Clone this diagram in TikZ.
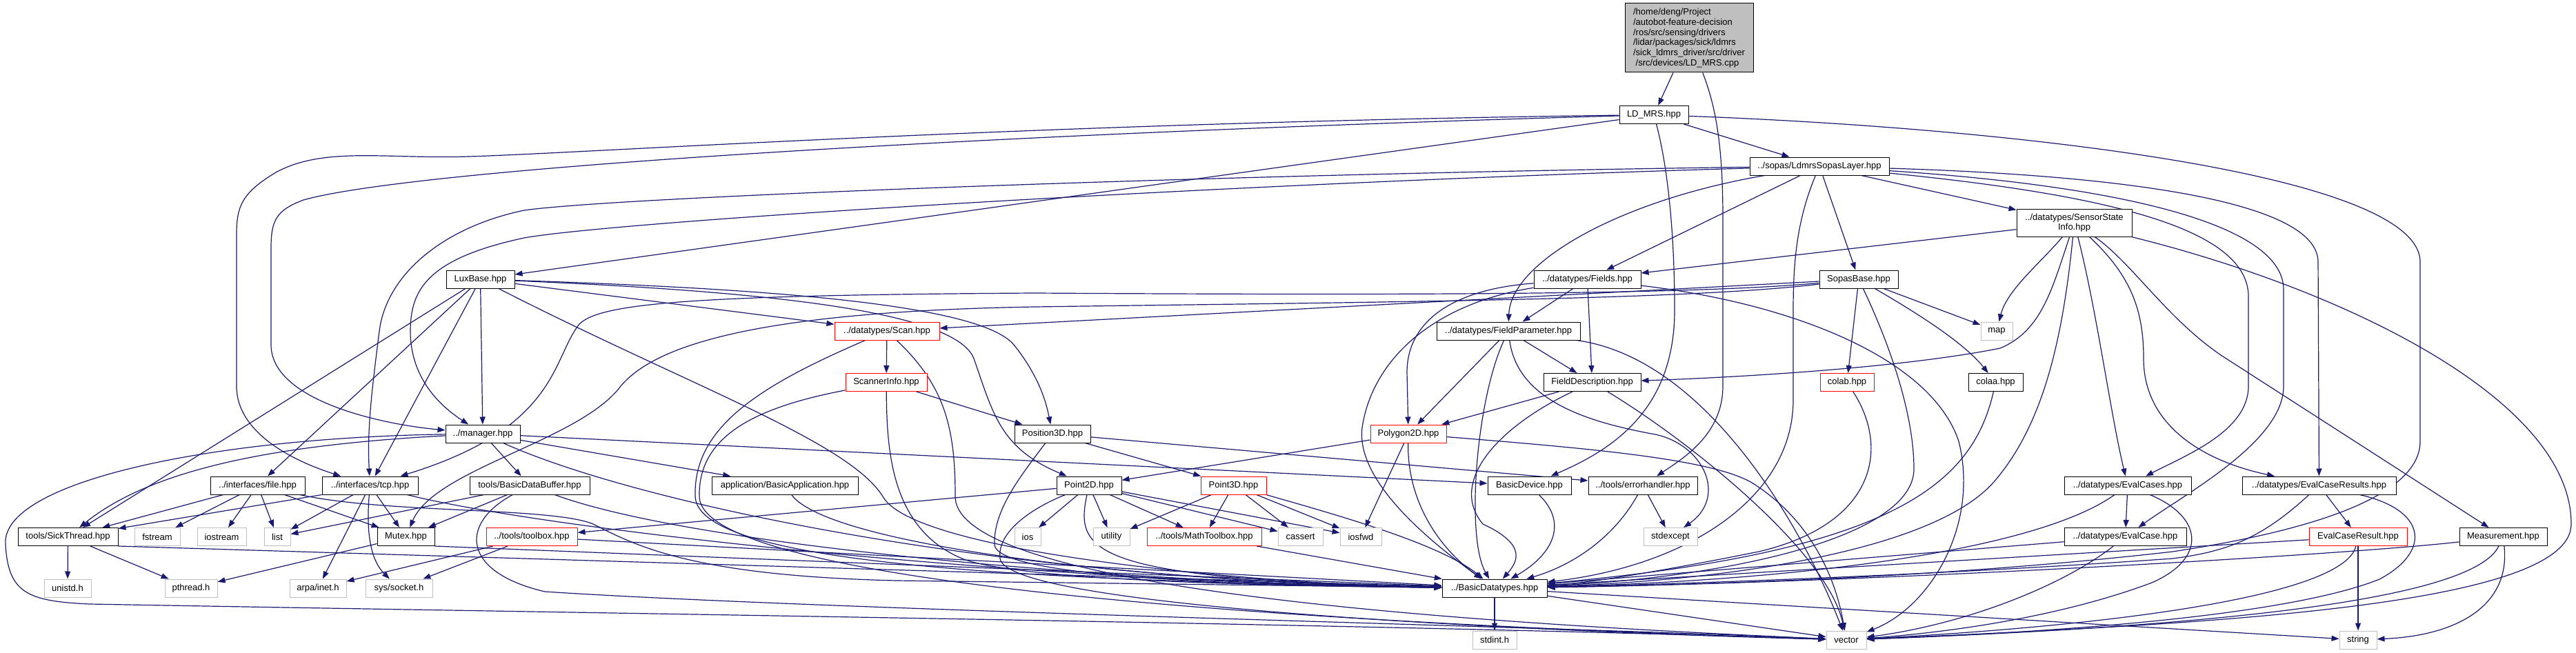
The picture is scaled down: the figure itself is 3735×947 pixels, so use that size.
\documentclass[tikz,border=0pt]{standalone}
\usepackage{fontspec}
\setmainfont{Liberation Sans}
\usepackage{tikz}
\usetikzlibrary{arrows.meta,backgrounds}
\definecolor{edgeblue}{RGB}{25,25,112}
\definecolor{sysgray}{RGB}{191,191,191}
\tikzset{
  hdrbox/.style={rectangle, draw=black, fill=white, line width=0.5pt, minimum height=13pt, inner sep=1.5pt, font=\fontsize{6.5}{7.35}\selectfont},
  truncbox/.style={hdrbox, draw=red},
  sysbox/.style={hdrbox, draw=sysgray},
  rootbox/.style={hdrbox, fill=sysgray, align=left},
  dep/.style={-{Triangle[length=5.5pt,width=4pt]}, color=edgeblue, line width=0.6pt},
}

\begin{document}
\begin{tikzpicture}[x=0.5pt, y=-0.5pt]
  \useasboundingbox (0,0) rectangle (3735,947);

  % Source file
  \node[rootbox, minimum width=93pt, minimum height=50pt] (root) at (2449,55) {/home/deng/Project\\/autobot-feature-decision\\/ros/src/sensing/drivers\\/lidar/packages/sick/ldmrs\\/sick\_ldmrs\_driver/src/driver\\\ /src/devices/LD\_MRS.cpp};

  % Upper headers
  \node[hdrbox, minimum width=50pt] (ldmrs) at (2398,166.5) {LD\_MRS.hpp};
  \node[hdrbox, minimum width=101pt] (sopaslayer) at (2638,241) {../sopas/LdmrsSopasLayer.hpp};
  \node[hdrbox, minimum width=83.5pt, minimum height=20pt, align=center] (sensorstate) at (3007.5,323) {../datatypes/SensorState\\Info.hpp};
  \node[hdrbox, minimum width=49.5pt] (luxbase) at (696.5,405) {LuxBase.hpp};
  \node[hdrbox, minimum width=77.5pt] (fields) at (2301.5,405) {../datatypes/Fields.hpp};
  \node[hdrbox, minimum width=57pt] (sopasbase) at (2695,405) {SopasBase.hpp};
  \node[truncbox, minimum width=76pt] (scan) at (1286,480) {../datatypes/Scan.hpp};
  \node[hdrbox, minimum width=104pt] (fieldparam) at (2187,480) {../datatypes/FieldParameter.hpp};
  \node[sysbox, minimum width=23pt] (map) at (2895,480) {map};
  \node[truncbox, minimum width=59pt] (scannerinfo) at (1285,554.5) {ScannerInfo.hpp};
  \node[hdrbox, minimum width=70.5pt] (fielddesc) at (2308.5,554.5) {FieldDescription.hpp};
  \node[truncbox, minimum width=39pt] (colab) at (2678,554.5) {colab.hpp};
  \node[hdrbox, minimum width=39.5pt] (colaa) at (2893.5,554.5) {colaa.hpp};
  \node[hdrbox, minimum width=54pt] (manager) at (700,629) {../manager.hpp};
  \node[hdrbox, minimum width=55pt] (position3d) at (1526,629) {Position3D.hpp};
  \node[truncbox, minimum width=55pt] (polygon2d) at (2042,629) {Polygon2D.hpp};

  % Middle headers
  \node[hdrbox, minimum width=68.5pt] (filehpp) at (373.5,704) {../interfaces/file.hpp};
  \node[hdrbox, minimum width=69.5pt] (tcphpp) at (536.5,704) {../interfaces/tcp.hpp};
  \node[hdrbox, minimum width=87pt] (bdatabuf) at (768,704) {tools/BasicDataBuffer.hpp};
  \node[hdrbox, minimum width=106pt] (basicapp) at (1138,704) {application/BasicApplication.hpp};
  \node[hdrbox, minimum width=47pt] (point2d) at (1579,704) {Point2D.hpp};
  \node[truncbox, minimum width=47.5pt] (point3d) at (1788.5,704) {Point3D.hpp};
  \node[hdrbox, minimum width=60.5pt] (basicdevice) at (2217.5,704) {BasicDevice.hpp};
  \node[hdrbox, minimum width=79pt] (errorhandler) at (2382,704) {../tools/errorhandler.hpp};
  \node[hdrbox, minimum width=92pt] (evalcases) at (3085,704) {../datatypes/EvalCases.hpp};
  \node[hdrbox, minimum width=111.5pt] (evalcaseresults) at (3362.5,704) {../datatypes/EvalCaseResults.hpp};

  \node[hdrbox, minimum width=72.5pt] (sickthread) at (98.5,778.5) {tools/SickThread.hpp};
  \node[sysbox, minimum width=33pt] (fstream) at (228,778.5) {fstream};
  \node[sysbox, minimum width=35.5pt] (iostream) at (321.5,778.5) {iostream};
  \node[sysbox, minimum width=19pt] (list) at (402,778.5) {list};
  \node[hdrbox, minimum width=41.5pt] (mutex) at (588.5,778.5) {Mutex.hpp};
  \node[truncbox, minimum width=66pt] (toolbox) at (771,778.5) {../tools/toolbox.hpp};
  \node[sysbox, minimum width=19pt] (ios) at (1490,778.5) {ios};
  \node[sysbox, minimum width=26.5pt] (utility) at (1611.5,778.5) {utility};
  \node[truncbox, minimum width=83pt] (mathtoolbox) at (1746,778.5) {../tools/MathToolbox.hpp};
  \node[sysbox, minimum width=32.5pt] (cassert) at (1885.5,778.5) {cassert};
  \node[sysbox, minimum width=30pt] (iosfwd) at (1973,778.5) {iosfwd};
  \node[sysbox, minimum width=39pt] (stdexcept) at (2422,778.5) {stdexcept};
  \node[hdrbox, minimum width=88.5pt] (evalcase) at (3081.5,778.5) {../datatypes/EvalCase.hpp};
  \node[truncbox, minimum width=71pt] (evalcaseresult) at (3419,778.5) {EvalCaseResult.hpp};
  \node[hdrbox, minimum width=63.5pt] (measurement) at (3629.5,778.5) {Measurement.hpp};

  % Bottom headers
  \node[sysbox, minimum width=34pt] (unistd) at (98,853) {unistd.h};
  \node[sysbox, minimum width=38pt] (pthread) at (277,853) {pthread.h};
  \node[sysbox, minimum width=41pt] (arpainet) at (461,853) {arpa/inet.h};
  \node[sysbox, minimum width=48.5pt] (syssocket) at (578.5,853) {sys/socket.h};
  \node[hdrbox, minimum width=76pt] (basicdt) at (2167,853) {../BasicDatatypes.hpp};
  \node[sysbox, minimum width=32pt] (stdint) at (2167,928) {stdint.h};
  \node[sysbox, minimum width=29pt] (vector) at (2677,928) {vector};
  \node[sysbox, minimum width=27pt] (string) at (3419,928) {string};

  \begin{scope}[on background layer]
  % LD_MRS.cpp
  \draw[dep] (root) -- (ldmrs);
  \draw[dep] (root) .. controls (2490,160) and (2498,220) .. (2498,320) -- (2498,560) .. controls (2498,630) and (2440,665) .. (errorhandler);

  % LD_MRS.hpp
  \draw[dep] (ldmrs) -- (sopaslayer);
  \draw[dep] (ldmrs) -- (luxbase);
  \draw[dep] (ldmrs) .. controls (1500,178) and (850,222) .. (680,227) .. controls (560,231) and (470,212) .. (400,250) .. controls (350,280) and (343,300) .. (343,340) -- (343,560) .. controls (343,630) and (430,670) .. (tcphpp);
  \draw[dep] (ldmrs) .. controls (1400,195) and (600,245) .. (440,290) .. controls (400,305) and (393,320) .. (393,360) -- (393,500) .. controls (393,580) and (550,615) .. (manager);
  \draw[dep] (ldmrs) .. controls (2420,250) and (2428,350) .. (2428,450) .. controls (2428,600) and (2330,655) .. (basicdevice);
  \draw[dep] (ldmrs) .. controls (2900,185) and (3509,250) .. (3509,380) -- (3509,640) .. controls (3509,720) and (3350,770) .. (3150,800) .. controls (2800,840) and (2450,848) .. (basicdt);

  % LdmrsSopasLayer.hpp
  \draw[dep] (sopaslayer) -- (fields);
  \draw[dep] (sopaslayer) -- (sopasbase);
  \draw[dep] (sopaslayer) -- (sensorstate);
  \draw[dep] (sopaslayer) .. controls (2350,290) and (2190,380) .. (fieldparam);
  \draw[dep] (sopaslayer) .. controls (2605,320) and (2600,380) .. (2600,450) -- (2600,580) .. controls (2600,720) and (2450,820) .. (basicdt);
  \draw[dep] (sopaslayer) .. controls (1800,252) and (900,285) .. (760,305) .. controls (640,330) and (560,400) .. (550,480) .. controls (540,560) and (532,620) .. (tcphpp);
  \draw[dep] (sopaslayer) .. controls (1800,265) and (900,320) .. (760,345) .. controls (620,375) and (595,420) .. (595,480) .. controls (595,550) and (640,590) .. (manager);
  \draw[dep] (sopaslayer) .. controls (3000,252) and (3361,280) .. (3361,380) -- (evalcaseresults);
  \draw[dep] (sopaslayer) .. controls (3050,268) and (3311,320) .. (3311,420) -- (3311,560) .. controls (3311,640) and (3170,715) .. (evalcase);
  \draw[dep] (sopaslayer) .. controls (3050,282) and (3260,330) .. (3260,430) -- (3260,560) .. controls (3260,625) and (3170,660) .. (evalcases);

  % SensorStateInfo.hpp
  \draw[dep] (sensorstate) -- (fields);
  \draw[dep] (sensorstate) .. controls (2975,420) and (2960,480) .. (2900,505) .. controls (2750,535) and (2500,548) .. (fielddesc);
  \draw[dep] (sensorstate) .. controls (2960,380) and (2910,420) .. (map);
  \draw[dep] (sensorstate) .. controls (3040,450) and (3060,600) .. (evalcases);
  \draw[dep] (sensorstate) .. controls (3090,400) and (3108,450) .. (3108,520) .. controls (3108,620) and (3200,670) .. (evalcaseresults);
  \draw[dep] (sensorstate) .. controls (3090,380) and (3140,460) .. (3220,515) -- (measurement);
  \draw[dep] (sensorstate) .. controls (3400,420) and (3728,580) .. (3728,760) .. controls (3728,880) and (3200,905) .. (vector);
  \draw[dep] (sensorstate) .. controls (2990,500) and (2960,620) .. (2890,700) .. controls (2800,800) and (2500,842) .. (basicdt);

  % LuxBase.hpp
  \draw[dep] (luxbase) -- (manager);
  \draw[dep] (luxbase) -- (sickthread);
  \draw[dep] (luxbase) -- (filehpp);
  \draw[dep] (luxbase) -- (tcphpp);
  \draw[dep] (luxbase) -- (scan);
  \draw[dep] (luxbase) .. controls (1100,418) and (1420,440) .. (1470,500) .. controls (1510,550) and (1518,590) .. (position3d);
  \draw[dep] (luxbase) .. controls (1100,422) and (1385,450) .. (1412,520) .. controls (1440,600) and (1450,650) .. (point2d);
  \draw[dep] (luxbase) .. controls (1000,560) and (1230,640) .. (1280,720) .. controls (1330,810) and (1900,850) .. (basicdt);

  % Fields.hpp
  \draw[dep] (fields) -- (fieldparam);
  \draw[dep] (fields) -- (fielddesc);
  \draw[dep] (fields) .. controls (2100,420) and (2040,470) .. (2040,540) -- (polygon2d);
  \draw[dep] (fields) .. controls (2080,440) and (1990,520) .. (1975,620) .. controls (1965,700) and (2080,790) .. (basicdt);
  \draw[dep] (fields) .. controls (2600,440) and (2800,520) .. (2840,640) .. controls (2870,760) and (2800,880) .. (vector);

  % SopasBase.hpp
  \draw[dep] (sopasbase) -- (colab);
  \draw[dep] (sopasbase) -- (map);
  \draw[dep] (sopasbase) .. controls (2790,460) and (2850,500) .. (colaa);
  \draw[dep] (sopasbase) .. controls (2740,500) and (2775,600) .. (2775,680) .. controls (2775,780) and (2500,838) .. (basicdt);
  \draw[dep] (sopasbase) -- (scan);
  \draw[dep] (sopasbase) .. controls (2450,428) and (2000,428) .. (1500,425) .. controls (1000,428) and (870,440) .. (840,470) .. controls (800,520) and (810,620) .. (tcphpp);
  \draw[dep] (sopasbase) .. controls (2450,435) and (2000,438) .. (1500,445) .. controls (1100,452) and (950,500) .. (900,560) .. controls (840,640) and (630,680) .. (mutex);

  % FieldParameter.hpp, FieldDescription.hpp, Polygon2D.hpp
  \draw[dep] (fieldparam) -- (polygon2d);
  \draw[dep] (fieldparam) -- (fielddesc);
  \draw[dep] (fieldparam) .. controls (2140,580) and (2125,780) .. (basicdt);
  \draw[dep] (fieldparam) .. controls (2200,580) and (2300,612) .. (2400,630) .. controls (2470,645) and (2505,720) .. (stdexcept);
  \draw[dep] (fieldparam) .. controls (2480,520) and (2620,780) .. (vector);
  \draw[dep] (fielddesc) -- (polygon2d);
  \draw[dep] (fielddesc) .. controls (2170,620) and (2100,700) .. (2150,760) .. controls (2215,790) and (2200,815) .. (basicdt);
  \draw[dep] (fielddesc) .. controls (2450,640) and (2650,800) .. (vector);
  \draw[dep] (polygon2d) -- (point2d);
  \draw[dep] (polygon2d) -- (iosfwd);
  \draw[dep] (polygon2d) .. controls (2040,720) and (2080,790) .. (basicdt);
  \draw[dep] (polygon2d) .. controls (2300,650) and (2480,665) .. (2540,700) .. controls (2620,750) and (2660,830) .. (vector);

  % Scan.hpp, ScannerInfo.hpp, Position3D.hpp
  \draw[dep] (scan) -- (scannerinfo);
  \draw[dep] (scan) .. controls (1100,560) and (1005,620) .. (1008,720) .. controls (1012,820) and (1500,842) .. (basicdt);
  \draw[dep] (scan) .. controls (1370,560) and (1385,620) .. (1385,720) .. controls (1385,870) and (2300,910) .. (vector);
  \draw[dep] (scannerinfo) -- (position3d);
  \draw[dep] (scannerinfo) .. controls (1286,650) and (1290,770) .. (1400,812) .. controls (1500,845) and (1900,850) .. (basicdt);
  \draw[dep] (scannerinfo) .. controls (1100,590) and (1012,630) .. (1014,720) .. controls (1016,870) and (2200,912) .. (vector);
  \draw[dep] (position3d) -- (point3d);
  \draw[dep] (position3d) -- (errorhandler);
  \draw[dep] (position3d) .. controls (1480,690) and (1440,740) .. (1442,790) .. controls (1445,830) and (1700,848) .. (basicdt);

  % manager.hpp
  \draw[dep] (manager) -- (bdatabuf);
  \draw[dep] (manager) -- (basicapp);
  \draw[dep] (manager) -- (basicdevice);
  \draw[dep] (manager) .. controls (400,645) and (220,680) .. (sickthread);
  \draw[dep] (manager) .. controls (300,635) and (0,700) .. (8,790) .. controls (12,860) and (40,872) .. (130,876) .. controls (900,890) and (2000,905) .. (vector);
  \draw[dep] (manager) .. controls (900,720) and (1400,840) .. (basicdt);

  % interfaces and tools
  \draw[dep] (filehpp) -- (sickthread);
  \draw[dep] (filehpp) -- (fstream);
  \draw[dep] (filehpp) -- (iostream);
  \draw[dep] (filehpp) -- (list);
  \draw[dep] (filehpp) -- (mutex);
  \draw[dep] (filehpp) .. controls (560,745) and (800,735) .. (860,760) .. controls (920,790) and (1000,835) .. (1300,842) -- (basicdt);
  \draw[dep] (tcphpp.south west) -- (sickthread);
  \draw[dep] (tcphpp) -- (list);
  \draw[dep] (tcphpp) -- (arpainet);
  \draw[dep] (tcphpp) .. controls (530,780) and (540,815) .. (syssocket);
  \draw[dep] (tcphpp) -- (mutex);
  \draw[dep] (tcphpp) .. controls (800,770) and (1500,845) .. (basicdt);
  \draw[dep] (bdatabuf) -- (list);
  \draw[dep] (bdatabuf) -- (mutex);
  \draw[dep] (bdatabuf) .. controls (665,760) and (670,830) .. (790,858) .. controls (1200,885) and (2300,910) .. (vector);
  \draw[dep] (bdatabuf) .. controls (1000,790) and (1600,845) .. (basicdt);
  \draw[dep] (basicapp) .. controls (1200,790) and (1650,845) .. (basicdt);
  \draw[dep] (sickthread) -- (unistd);
  \draw[dep] (sickthread) -- (pthread);
  \draw[dep] (sickthread.south east) -- (basicdt);
  \draw[dep] (mutex) -- (pthread);
  \draw[dep] (mutex.south east) -- (basicdt);
  \draw[dep] (toolbox) -- (arpainet);
  \draw[dep] (toolbox) -- (syssocket);
  \draw[dep] (toolbox) -- (basicdt);

  % Point2D.hpp, Point3D.hpp
  \draw[dep] (point2d) -- (toolbox);
  \draw[dep] (point2d) -- (ios);
  \draw[dep] (point2d) -- (utility);
  \draw[dep] (point2d) -- (mathtoolbox);
  \draw[dep] (point2d) -- (cassert);
  \draw[dep] (point2d) -- (iosfwd);
  \draw[dep] (point2d) .. controls (1558,800) and (1580,840) .. (basicdt);
  \draw[dep] (point2d) .. controls (1500,735) and (1445,770) .. (1450,810) .. controls (1460,880) and (2200,915) .. (vector);
  \draw[dep] (point3d) -- (utility);
  \draw[dep] (point3d) -- (mathtoolbox);
  \draw[dep] (point3d) -- (cassert);
  \draw[dep] (point3d) -- (iosfwd);
  \draw[dep] (point3d) .. controls (1950,750) and (2090,790) .. (basicdt);
  \draw[dep] (mathtoolbox) -- (basicdt);

  % devices and error handling
  \draw[dep] (basicdevice) .. controls (2275,760) and (2250,805) .. (basicdt);
  \draw[dep] (errorhandler) .. controls (2340,780) and (2280,820) .. (basicdt);
  \draw[dep] (errorhandler) -- (stdexcept);

  % evaluation cases
  \draw[dep] (evalcases) -- (evalcase);
  \draw[dep] (evalcases) .. controls (2950,800) and (2600,842) .. (basicdt);
  \draw[dep] (evalcases) .. controls (3195,750) and (3200,810) .. (3120,845) .. controls (3000,890) and (2850,915) .. (vector);
  \draw[dep] (evalcaseresults) -- (evalcaseresult);
  \draw[dep] (evalcaseresults) .. controls (3280,780) and (3230,800) .. (3150,810) .. controls (2800,835) and (2400,848) .. (basicdt);
  \draw[dep] (evalcaseresults) .. controls (3520,740) and (3525,800) .. (3450,840) .. controls (3300,900) and (2900,920) .. (vector);
  \draw[dep] (evalcase) -- (basicdt);
  \draw[dep] (evalcase) .. controls (2990,850) and (2850,905) .. (vector);
  \draw[dep] (evalcaseresult) -- (basicdt);
  \draw[dep] (evalcaseresult) .. controls (3400,860) and (3100,905) .. (vector);
  \draw[dep] (evalcaseresult) -- (string);
  \draw[dep] (measurement) .. controls (3400,805) and (2700,845) .. (basicdt);
  \draw[dep] (measurement) .. controls (3590,860) and (3300,905) .. (vector);
  \draw[dep] (measurement) .. controls (3640,880) and (3560,922) .. (string);

  % colab, colaa
  \draw[dep] (colab) .. controls (2740,650) and (2720,760) .. (2550,800) .. controls (2400,830) and (2300,846) .. (basicdt);
  \draw[dep] (colaa) .. controls (2860,700) and (2750,800) .. (basicdt);

  % BasicDatatypes.hpp
  \draw[dep] (basicdt) -- (stdint);
  \draw[dep] (basicdt) -- (vector);
  \draw[dep] (basicdt) -- (string);
  \end{scope}
\end{tikzpicture}
\end{document}
